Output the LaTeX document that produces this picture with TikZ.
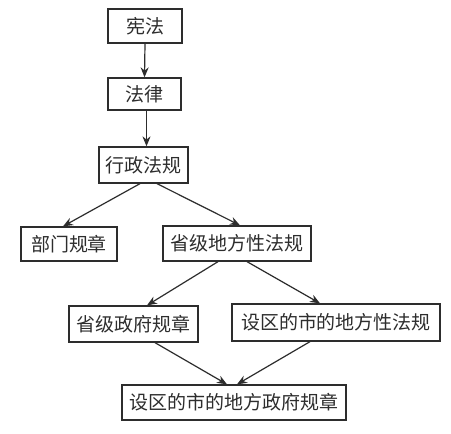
\documentclass[tikz,border=0pt]{standalone}
\usepackage{fontspec}
\newfontfamily\cjk{Noto Sans CJK SC}
\usetikzlibrary{calc,arrows.meta}
\definecolor{ink}{RGB}{45,45,45}
\begin{document}
\begin{tikzpicture}[x=1pt,y=-1pt,
  lawbox/.style={draw=ink,line width=1.3pt,text=ink,font=\cjk\fontsize{19}{19}\selectfont,
    inner sep=0pt,minimum height=#1},
  lawbox/.default=35,
  link/.style={draw=ink,line width=1.2pt,-{Stealth[length=10pt,width=8pt]}}]
\useasboundingbox[fill=white] (0,0) rectangle (451,434);

\node[lawbox=34,minimum width=74] (xf) at (145,26) {宪法};
\node[lawbox=32,minimum width=73] (fl) at (144.5,94) {法律};
\node[lawbox=36,minimum width=89] (xz) at (143.5,165) {行政法规};
\node[lawbox=34,minimum width=96] (bm) at (69,244) {部门规章};
\node[lawbox=35,minimum width=148] (sd) at (237,243.5) {省级地方性法规};
\node[lawbox=36,minimum width=129] (sz) at (133.5,324) {省级政府规章};
\node[lawbox=37,minimum width=208] (qd) at (336,322.5) {设区的市的地方性法规};
\node[lawbox=35,minimum width=224] (qz) at (234,402.5) {设区的市的地方政府规章};

\draw[link] (xf.south) -- (fl.north);
\draw[link] ($(fl.south)+(2,0)$) -- ($(xz.north)+(3,0)$);
\draw[link] ($(xz.south)+(-3.5,0)$) -- ($(bm.north)+(-6,0)$);
\draw[link] ($(xz.south)+(13.5,0)$) -- ($(sd.north)+(3,0)$);
\draw[link] ($(sd.south)+(-19,0)$) -- ($(sz.north)+(13.5,0)$);
\draw[link] ($(sd.south)+(10,0)$) -- ($(qd.north)+(-16,0)$);
\draw[link] ($(sz.south)+(21.5,0)$) -- ($(qz.north)+(-7,0)$);
\draw[link] ($(qd.south)+(-26,0)$) -- ($(qz.north)+(3,0)$);
\end{tikzpicture}
\end{document}
